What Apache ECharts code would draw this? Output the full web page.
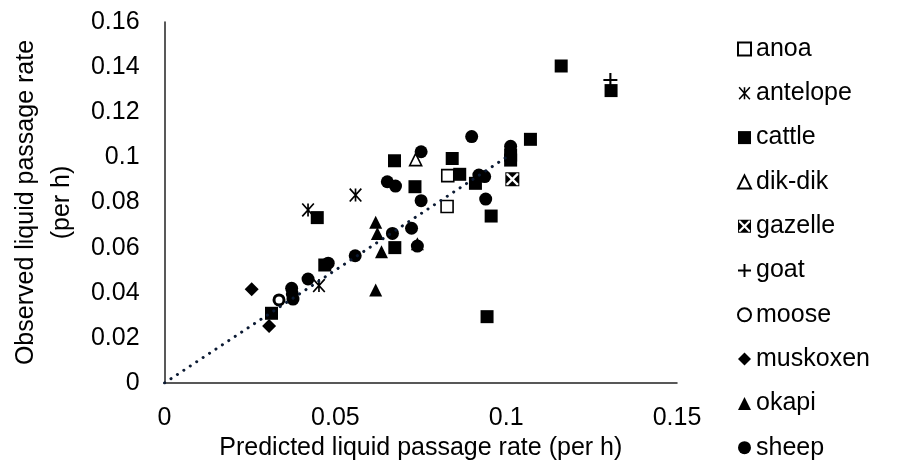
<!DOCTYPE html>
<html>
<head>
<meta charset="utf-8">
<script src="https://cdn.jsdelivr.net/npm/echarts@6/dist/echarts.min.js"></script>
<style>
html,body{margin:0;padding:0;background:#fff;}
#chart{width:897px;height:470px;}
</style>
</head>
<body>
<div id="chart"></div>
<script>
// ---- data (predicted, observed) ----
const anoa = [[0.0829,0.0919],[0.0827,0.0782]];
const antelope = [[0.0420,0.0767],[0.0559,0.0833],[0.0452,0.0432]];
const cattle = [[0.0447,0.0733],[0.0469,0.0523],[0.0313,0.0309],[0.0673,0.0985],[0.0842,0.0995],
  [0.1013,0.1010],[0.1013,0.0988],[0.1071,0.1080],[0.1161,0.1405],[0.1307,0.1296],[0.0864,0.0925],
  [0.0910,0.0885],[0.0733,0.0870],[0.0956,0.0740],[0.0674,0.0600],[0.0944,0.0294]];
const dikdik = [[0.0735,0.0990]];
const gazelle = [[0.1018,0.0903]];
const goat = [[0.1305,0.1343]];
const moose = [[0.0335,0.0368]];
const muskoxen = [[0.0255,0.0415],[0.0306,0.0253]];
const okapi = [[0.0618,0.0713],[0.0623,0.0663],[0.0635,0.0582],[0.0740,0.0617],[0.0618,0.0412]];
const sheep = [[0.0558,0.0564],[0.0479,0.0531],[0.0420,0.0461],[0.0372,0.0420],[0.0374,0.0395],
  [0.0376,0.0372],[0.0652,0.0892],[0.0676,0.0873],[0.0751,0.0808],[0.0751,0.1025],[0.0667,0.0663],
  [0.0723,0.0686],[0.0740,0.0607],[0.0899,0.1092],[0.1013,0.1049],[0.0920,0.0922],[0.0937,0.0915],
  [0.0940,0.0815]];
const lineXY = [[0,0],[0.1,0.1]];
const seriesNames = ['anoa','antelope','cattle','dik-dik','gazelle','goat','moose','muskoxen','okapi','sheep'];
const xTitle = 'Predicted liquid passage rate (per h)';
const yTitle = 'Observed liquid passage rate\n(per h)';

// ---- symbol helpers ----
function bars(segs, hw){
  return 'path://' + segs.map(function(s){
    const x1=s[0],y1=s[1],x2=s[2],y2=s[3];
    const dx=x2-x1, dy=y2-y1, L=Math.hypot(dx,dy);
    const nx=-dy/L*hw, ny=dx/L*hw;
    return 'M'+(x1+nx)+','+(y1+ny)+'L'+(x2+nx)+','+(y2+ny)+'L'+(x2-nx)+','+(y2-ny)+'L'+(x1-nx)+','+(y1-ny)+'Z';
  }).join('');
}
const starPath = bars([[0,-1,0,1],[-0.9,-1,0.9,1],[-0.9,1,0.9,-1]],0.13);
const plusPath = bars([[-1,0,1,0],[0,-1,0,1]],0.15);
const gazPath = 'path://M0,0L1,0L1,1L0,1ZM0.07,0.07L0.07,0.93L0.93,0.93L0.93,0.07Z'+
  'M0.12,0L0.88,0L0.5,0.38Z M1,0.12L1,0.88L0.62,0.5Z M0.88,1L0.12,1L0.5,0.62Z M0,0.88L0,0.12L0.38,0.5Z';

const FONT = 'Liberation Sans, Arial, sans-serif';
const K = '#000';
function sc(name, data, symbol, size, style){
  style.opacity = 1;
  return {name:name, type:'scatter', data:data, symbol:symbol, symbolSize:size,
    symbolKeepAspect:true, itemStyle:style, z:2};
}
const series = [
  sc('anoa', anoa, 'rect', 12, {color:'#fff', borderColor:K, borderWidth:1.6}),
  sc('antelope', antelope, starPath, 14, {color:K}),
  sc('cattle', cattle, 'rect', 13, {color:K}),
  sc('dik-dik', dikdik, 'triangle', 12, {color:'#fff', borderColor:K, borderWidth:1.6}),
  sc('gazelle', gazelle, gazPath, 14, {color:K}),
  sc('goat', goat, plusPath, 14, {color:K}),
  sc('moose', moose, 'circle', 10, {color:'#fff', borderColor:K, borderWidth:3}),
  sc('muskoxen', muskoxen, 'diamond', 14, {color:K}),
  sc('okapi', okapi, 'triangle', 13, {color:K}),
  sc('sheep', sheep, 'circle', 13, {color:K}),
  {name:'trend', type:'line', data:lineXY, symbol:'none', z:5, silent:true,
    lineStyle:{color:'#0b1a33', width:3, type:[0.1,7.6], cap:'round'}}
];

const chart = echarts.init(document.getElementById('chart'), null, {renderer:'canvas'});
chart.setOption({
  animation:false,
  backgroundColor:'#fff',
  textStyle:{fontFamily:FONT},
  grid:{left:162, right:220, top:22, bottom:87, containLabel:false},
  xAxis:{type:'value', min:0, max:0.15, interval:0.05,
    axisLine:{show:true, lineStyle:{color:'#222', width:1.5}},
    axisTick:{show:false}, splitLine:{show:false},
    axisLabel:{color:K, fontSize:25, fontFamily:FONT, margin:23},
    name:xTitle, nameLocation:'middle', nameGap:40,
    nameTextStyle:{color:K, fontSize:25, fontFamily:FONT, lineHeight:25}},
  yAxis:{type:'value', min:0, max:0.16, interval:0.02,
    axisLine:{show:true, lineStyle:{color:'#222', width:1.5}},
    axisTick:{show:false}, splitLine:{show:false},
    axisLabel:{color:K, fontSize:25, fontFamily:FONT, margin:25},
    name:yTitle, nameLocation:'middle', nameGap:66, nameRotate:90,
    nameTextStyle:{color:K, fontSize:25, fontFamily:FONT, lineHeight:36}},
  legend:{orient:'vertical', left:732, top:31, itemWidth:13, itemHeight:13, itemGap:18.3,
    data:seriesNames, textStyle:{color:K, fontSize:25, fontFamily:FONT, lineHeight:26}},
  series:series
});
</script>
</body>
</html>
